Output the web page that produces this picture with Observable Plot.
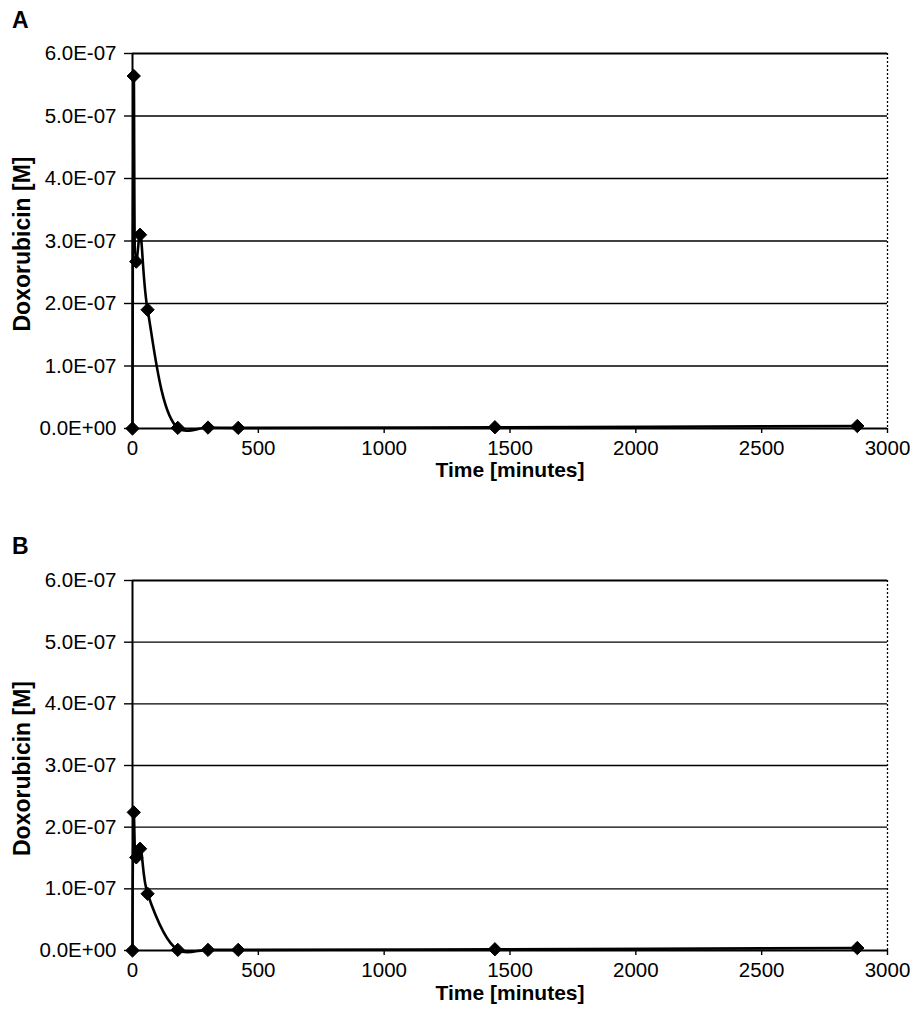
<!DOCTYPE html>
<html>
<head>
<meta charset="utf-8">
<script src="https://cdn.jsdelivr.net/npm/d3@7"></script>
<script src="https://cdn.jsdelivr.net/npm/@observablehq/plot@0.6"></script>
<style>
  html, body { margin: 0; padding: 0; background: white; }
  #wrap { position: relative; width: 915px; height: 1031px; overflow: hidden; }
  .panel { position: absolute; left: 0; }
  .plabel { position: absolute; font-family: "Liberation Sans", Arial, sans-serif; font-weight: bold; font-size: 23px; line-height: 1.15; color: black; }
</style>
</head>
<body>
<div id="wrap">
  <div id="pA" class="panel" style="top:0px"></div>
  <div id="pB" class="panel" style="top:490px"></div>
  <div class="plabel" style="left:12px; top:7px">A</div>
  <div class="plabel" style="left:12px; top:533px">B</div>
</div>
<script>
// ---- data ----
const times = [0, 5, 15, 30, 60, 180, 300, 420, 1440, 2880];
const concA = [0, 5.64e-7, 2.67e-7, 3.10e-7, 1.90e-7, 1.0e-9, 1.5e-9, 1.0e-9, 2.0e-9, 4.0e-9];
const concB = [0, 2.24e-7, 1.51e-7, 1.65e-7, 0.92e-7, 1.0e-9, 1.0e-9, 1.0e-9, 2.0e-9, 4.0e-9];
const yTicks = [0, 1e-7, 2e-7, 3e-7, 4e-7, 5e-7, 6e-7];
const yTickLabels = ["0.0E+00", "1.0E-07", "2.0E-07", "3.0E-07", "4.0E-07", "5.0E-07", "6.0E-07"];
const xTicks = [0, 500, 1000, 1500, 2000, 2500, 3000];
const xTickLabels = ["0", "500", "1000", "1500", "2000", "2500", "3000"];
const xTitle = "Time [minutes]";
const yTitle = "Doxorubicin [M]";

const yFmt = new Map(yTicks.map((t, i) => [t, yTickLabels[i]]));
const xFmt = new Map(xTicks.map((t, i) => [t, xTickLabels[i]]));
const FONT = "Liberation Sans, Arial, sans-serif";

function panel(conc, height, marginTop, marginBottom, tickDy, titleDy) {
  const data = times.map((t, i) => ({t, c: conc[i]}));
  return Plot.plot({
    width: 915,
    height,
    marginLeft: 132,
    marginRight: 28,
    marginTop,
    marginBottom,
    x: {domain: [0, 3000]},
    y: {domain: [0, 6e-7]},
    style: {fontFamily: FONT, fontSize: "20px", color: "black", background: "white", overflow: "visible"},
    marks: [
      Plot.ruleY(yTicks.slice(1, -1), {stroke: "black", strokeWidth: 1.4}),
      Plot.ruleY([yTicks[yTicks.length - 1]], {stroke: "black", strokeWidth: 2}),
      Plot.ruleX([xTicks[xTicks.length - 1]], {stroke: "black", strokeWidth: 1.3, strokeDasharray: "2,2"}),
      Plot.axisY({ticks: yTicks, tickFormat: () => "", tickSize: 8, label: null, strokeWidth: 1.4}),
      Plot.axisX({ticks: xTicks, tickFormat: () => "", tickSize: 5, label: null, strokeWidth: 1.4}),
      Plot.text(yTicks, {y: d => d, text: d => yFmt.get(d), frameAnchor: "left", dx: -16, textAnchor: "end", fontSize: 20.5, fontFamily: FONT, fill: "black"}),
      Plot.text(xTicks, {x: d => d, text: d => xFmt.get(d), frameAnchor: "bottom", dy: tickDy, textAnchor: "middle", fontSize: 20.5, fontFamily: FONT, fill: "black"}),
      Plot.ruleY([0], {stroke: "black", strokeWidth: 2}),
      Plot.ruleX([0], {stroke: "black", strokeWidth: 2}),
      Plot.line(data, {x: "t", y: "c", curve: "catmull-rom", stroke: "black", strokeWidth: 2.6}),
      Plot.dot(data, {x: "t", y: "c", symbol: "diamond2", r: 6, fill: "black", stroke: "black", strokeWidth: 1}),
      Plot.text([yTitle], {text: d => d, frameAnchor: "left", rotate: -90, dx: -110, dy: 3, textAnchor: "middle", fontWeight: "bold", fontSize: 23, fontFamily: FONT, fill: "black"}),
      Plot.text([xTitle], {text: d => d, frameAnchor: "bottom", dy: titleDy, textAnchor: "middle", fontWeight: "bold", fontSize: 21, fontFamily: FONT, fill: "black"})
    ]
  });
}

document.getElementById("pA").appendChild(panel(concA, 490, 53, 62, 26, 48));
document.getElementById("pB").appendChild(panel(concB, 541, 90, 81, 26, 49));
</script>
</body>
</html>
